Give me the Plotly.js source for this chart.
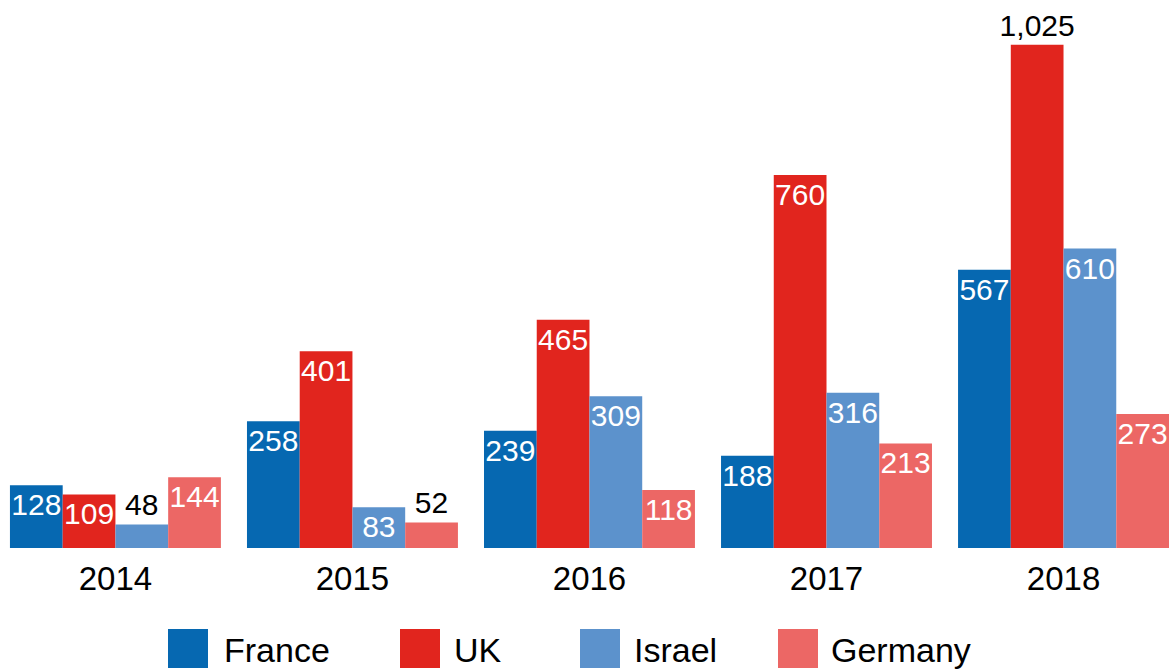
<!DOCTYPE html>
<html>
<head>
<meta charset="utf-8">
<script src="https://cdn.plot.ly/plotly-3.0.1.min.js"></script>
<style>
  html, body { margin: 0; padding: 0; background: #fff; }
  #viz { width: 1169px; height: 670px; }
</style>
</head>
<body>
<div id="viz"></div>
<script>
var years = ['2014', '2015', '2016', '2017', '2018'];

var france  = [128, 258, 239, 188, 567];
var uk      = [109, 401, 465, 760, 1025];
var israel  = [48, 83, 309, 316, 610];
var germany = [144, 52, 118, 213, 273];

var names  = ['France', 'UK', 'Israel', 'Germany'];
var colors = ['rgb(6,104,177)', 'rgb(225,37,30)', 'rgb(92,146,204)', 'rgb(236,103,101)'];
var series = [france, uk, israel, germany];

var FONT = 'Liberation Sans, Arial, sans-serif';

// small bars get their number above the bar, like the original
function positions(vals) {
    return vals.map(function (v) { return (v < 60 || v > 1000) ? 'outside' : 'inside'; });
}

var data = series.map(function (vals, i) {
    return {
        type: 'bar',
        x: years,
        y: vals,
        name: names[i],
        marker: { color: colors[i] },
        texttemplate: '%{y:,}',
        textposition: positions(vals),
        insidetextanchor: 'end',
        textangle: 0,
        constraintext: 'none',
        insidetextfont: { family: FONT, size: 30, color: '#ffffff' },
        outsidetextfont: { family: FONT, size: 30, color: '#000000' },
        cliponaxis: false,
        hoverinfo: 'x+y+name'
    };
});

// custom legend with big square swatches under the plot
var swatchX = [168, 400, 580, 778];
var labelX  = [222, 452, 632, 829];
var W = 1169, plotH = 540, plotBottom = 548;
function py(pix) { return (plotBottom - pix) / plotH; }

var shapes = [];
var annotations = [];
names.forEach(function (n, i) {
    shapes.push({
        type: 'rect', xref: 'paper', yref: 'paper',
        x0: swatchX[i] / W, x1: (swatchX[i] + 40) / W,
        y0: py(668), y1: py(629),
        fillcolor: colors[i], line: { width: 0 }
    });
    annotations.push({
        xref: 'paper', yref: 'paper',
        x: labelX[i] / W, y: py(650),
        xanchor: 'left', yanchor: 'middle',
        text: n, showarrow: false,
        font: { family: FONT, size: 34, color: '#000' }
    });
});

var layout = {
    width: 1169,
    height: 670,
    margin: { l: 0, r: 0, t: 8, b: 122 },
    paper_bgcolor: '#fff',
    plot_bgcolor: '#fff',
    barmode: 'group',
    bargap: 0.11,
    bargroupgap: 0,
    showlegend: false,
    xaxis: {
        type: 'category',
        range: [-0.487, 4.445],
        showline: false,
        ticks: '',
        ticklabelstandoff: 8,
        tickfont: { family: FONT, size: 33, color: '#000' },
        fixedrange: true
    },
    yaxis: {
        range: [0, 1100],
        visible: false,
        showgrid: false,
        zeroline: false,
        fixedrange: true
    },
    shapes: shapes,
    annotations: annotations
};

Plotly.newPlot('viz', data, layout, { displayModeBar: false, staticPlot: true });
</script>
</body>
</html>
